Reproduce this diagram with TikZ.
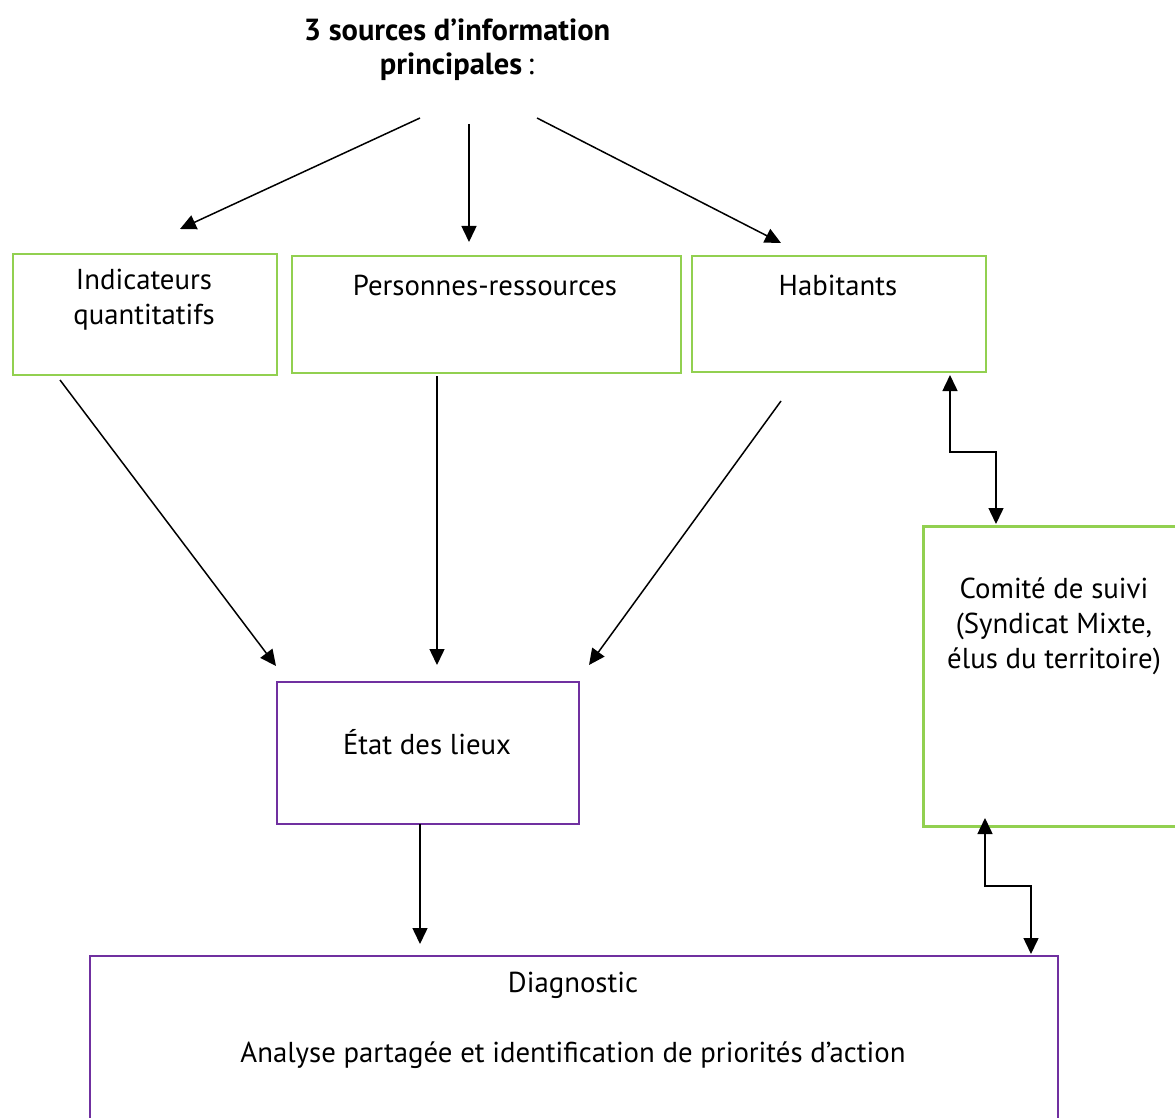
\documentclass[tikz,border=0pt]{standalone}
\usepackage{fontspec}
\setmainfont{PT Sans}
\usetikzlibrary{arrows.meta}
\definecolor{boxgreen}{HTML}{92D050}
\definecolor{boxpurple}{HTML}{7030A0}
\tikzset{
  greenbox/.style={draw=boxgreen, line width=1.8pt, anchor=north west, inner sep=0pt},
  purplebox/.style={draw=boxpurple, line width=2pt, anchor=north west, inner sep=0pt},
  txt/.style={inner sep=0pt, align=center, font=\fontsize{28.8}{35}\selectfont},
  ttl/.style={inner sep=0pt, align=center, font=\fontsize{30.5}{37}\selectfont},
  conn/.style={line width=1.5pt, -{Triangle[length=16pt,width=15pt]}},
  dconn/.style={line width=1.5pt, {Triangle[length=16pt,width=15pt]}-{Triangle[length=16pt,width=15pt]}},
}
\begin{document}
\begin{tikzpicture}[x=1pt,y=-1pt]
\useasboundingbox (0,0) rectangle (1175,1118);
\fill[white] (0,0) rectangle (1175,1118);
\clip (0,0) rectangle (1175,1118);

% title
\node[ttl] (title1) at (457,30) {\bfseries 3 sources d’information};
\node[ttl] (title2) at (457,67) {\bfseries principales\mdseries\,:};

% boxes
\node[greenbox, minimum width=264pt, minimum height=121pt] (ind) at (12,253) {};
\node[greenbox, minimum width=389pt, minimum height=117pt] (pers) at (291,255) {};
\node[greenbox, minimum width=294pt, minimum height=116pt] (hab) at (691,255) {};
\node[greenbox, line width=3pt, minimum width=300pt, minimum height=300pt] (com) at (922,525) {};
\node[purplebox, minimum width=302pt, minimum height=142pt] (etat) at (276,681) {};
\node[purplebox, minimum width=968pt, minimum height=300pt] (diag) at (89,955) {};

% texts
\node[txt] (tind) at (144,300) {Indicateurs\\quantitatifs};
\node[txt] (tpers) at (485,285) {Personnes-ressources};
\node[txt] (thab) at (838,285) {Habitants};
\node[txt] (tcom) at (1054,626) {Comité de suivi\\(Syndicat Mixte,\\élus du territoire)};
\node[txt] (tetat) at (427,742) {État des lieux};
\node[txt] (tdiag) at (573,985) {Diagnostic};
\node[txt] (tana) at (573,1055) {Analyse partagée et identification de priorités d’action};

% connector coordinates
\coordinate (s1) at (420,118);
\coordinate (e1) at (180,229);
\coordinate (s2) at (469,124);
\coordinate (e2) at (469,242);
\coordinate (s3) at (537,118);
\coordinate (e3) at (781,243);
\coordinate (s4) at (60,380);
\coordinate (e4) at (276,666);
\coordinate (s5) at (437,376);
\coordinate (e5) at (437,665);
\coordinate (s6) at (781,401);
\coordinate (e6) at (589,665);
\coordinate (s7) at (420,824);
\coordinate (e7) at (420,944);

\draw[conn] (s1) -- (e1);
\draw[conn] (s2) -- (e2);
\draw[conn] (s3) -- (e3);
\draw[conn] (s4) -- (e4);
\draw[conn] (s5) -- (e5);
\draw[conn] (s6) -- (e6);
\draw[conn] (s7) -- (e7);

% double elbow connectors
\coordinate (h1) at (950,375);
\coordinate (c1) at (996,524);
\draw[dconn] (h1) -- (950,452) -- (996,452) -- (c1);
\coordinate (c2) at (985,818);
\coordinate (d2) at (1031,954);
\draw[dconn] (c2) -- (985,886) -- (1031,886) -- (d2);
\end{tikzpicture}
\end{document}
